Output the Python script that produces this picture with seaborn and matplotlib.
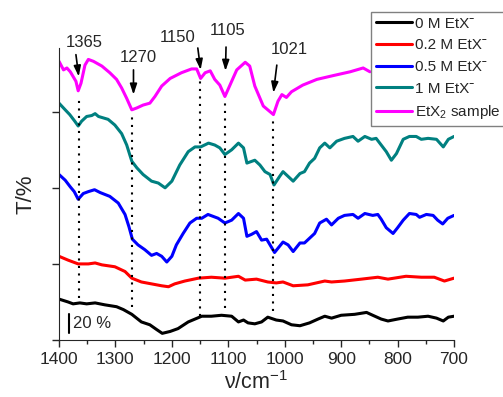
import numpy as np
import pandas as pd
import matplotlib
matplotlib.use('Agg')
from matplotlib import pyplot as plt
import seaborn as sns

# wavenumber (cm-1) / offset transmittance (%)
wn_0M = [1400, 1384, 1375, 1363, 1351, 1336, 1319, 1298, 1286, 1271, 1254, 1239, 1227, 1217, 1203, 1189, 1171,
         1147, 1130, 1112, 1094, 1082, 1073, 1065, 1053, 1041, 1030, 1015, 1003, 988, 973, 956, 941, 929, 917,
         900, 876, 855, 844, 829, 817, 800, 782, 764, 746, 731, 719, 710, 700]
t_0M = [43, 40, 38, 39, 38, 39, 37, 35, 32, 27, 19, 16, 11, 7, 9, 12, 19,
        25, 25, 26, 25, 19, 21, 18, 17, 19, 24, 21, 20, 16, 15, 18, 22, 25, 23,
        26, 27, 29, 26, 22, 20, 22, 24, 24, 25, 23, 20, 24, 25]

wn_02M = [1400, 1384, 1366, 1348, 1336, 1324, 1301, 1283, 1271, 1254, 1236, 1218, 1206, 1195, 1177, 1153, 1130,
          1106, 1082, 1070, 1050, 1030, 1015, 1003, 985, 959, 944, 929, 917, 894, 864, 835, 817, 785, 758, 735,
          717, 700]
t_02M = [88, 84, 80, 80, 81, 79, 77, 72, 65, 61, 59, 57, 56, 59, 62, 65, 66,
         65, 67, 63, 64, 61, 60, 61, 57, 58, 60, 62, 61, 62, 64, 66, 64, 67, 66, 66,
         62, 65]

wn_05M = [1400, 1389, 1380, 1373, 1366, 1357, 1348, 1337, 1327, 1310, 1295, 1283, 1276, 1270, 1260, 1248, 1236,
          1227, 1218, 1209, 1200, 1192, 1180, 1168, 1156, 1147, 1136, 1118, 1106, 1094, 1082, 1073, 1067, 1059,
          1050, 1041, 1032, 1024, 1018, 1003, 994, 985, 973, 965, 956, 947, 938, 926, 917, 905, 894, 879, 870,
          858, 844, 835, 829, 820, 808, 800, 790, 779, 767, 761, 749, 737, 729, 720, 711, 700]
t_05M = [174, 168, 161, 156, 148, 154, 156, 158, 155, 151, 144, 132, 119, 106, 100, 95, 89,
         91, 88, 82, 88, 100, 112, 123, 128, 128, 132, 128, 123, 126, 133, 128, 109, 111,
         114, 105, 106, 98, 92, 103, 100, 93, 102, 102, 107, 112, 123, 127, 121, 128, 131, 132, 128,
         133, 131, 132, 127, 118, 112, 118, 126, 133, 132, 129, 132, 131, 126, 122, 128, 131]

wn_1M = [1400, 1389, 1381, 1372, 1366, 1360, 1351, 1342, 1336, 1330, 1313, 1301, 1289, 1280, 1271, 1262, 1251,
         1236, 1224, 1212, 1200, 1186, 1171, 1159, 1149, 1135, 1124, 1115, 1106, 1094, 1082, 1073, 1067, 1053,
         1044, 1035, 1026, 1019, 1009, 1003, 994, 985, 973, 965, 956, 947, 938, 929, 920, 908, 894, 879, 870,
         858, 846, 838, 829, 820, 811, 802, 790, 779, 767, 758, 746, 731, 719, 710, 700]
t_1M = [249, 242, 237, 230, 225, 230, 235, 236, 238, 235, 232, 226, 217, 205, 188, 181, 174,
        167, 165, 160, 167, 184, 198, 203, 203, 207, 205, 202, 195, 200, 207, 202, 186, 189,
        184, 177, 174, 163, 172, 177, 172, 167, 175, 177, 186, 191, 202, 207, 202, 209, 212, 214, 209,
        214, 211, 212, 205, 198, 189, 196, 211, 214, 214, 211, 212, 211, 203, 211, 214]

wn_etx2 = [1400, 1392, 1386, 1380, 1375, 1370, 1366, 1361, 1354, 1348, 1339, 1324, 1310, 1298, 1289, 1280, 1271,
           1262, 1251, 1239, 1230, 1218, 1203, 1183, 1165, 1156, 1149, 1141, 1132, 1124, 1115, 1106, 1097, 1085,
           1070, 1062, 1053, 1038, 1020, 1012, 1005, 997, 988, 968, 943, 914, 884, 861, 849]
t_etx2 = [293, 284, 286, 282, 277, 272, 262, 270, 289, 295, 293, 288, 281, 274, 265, 254, 242,
          244, 247, 249, 256, 267, 275, 281, 285, 285, 275, 281, 283, 274, 268, 256, 268, 284,
          292, 288, 267, 246, 237, 251, 258, 255, 261, 268, 274, 278, 282, 286, 282]

series_names = ['0 M EtXˉ', '0.2 M EtXˉ', '0.5 M EtXˉ', '1 M EtXˉ', 'EtX$_{2}$ sample']
colors = ['#000000', '#ff0000', '#0000ff', '#008080', '#ff00ff']

# marked bands
peaks = [1365, 1270, 1150, 1105, 1021]
peak_top = [256, 237, 272, 253, 235]
peak_bottom = [44, 35, 25, 34, 31]
label_x = [1355, 1259, 1189, 1102, 992]
label_y = [313, 297, 318, 325, 305]
arrow_x0 = [1370, 1268, 1154, 1104, 1014]
arrow_y0 = [300, 284, 307, 308, 289]
arrow_x1 = [1365, 1268, 1149, 1105, 1020]
arrow_y1 = [277, 258, 284, 283, 260]

frames = []
for name, wn, t in zip(series_names,
                       [wn_0M, wn_02M, wn_05M, wn_1M, wn_etx2],
                       [t_0M, t_02M, t_05M, t_1M, t_etx2]):
    frames.append(pd.DataFrame({'wn': wn, 'T': t, 'sample': name}))
df = pd.concat(frames, ignore_index=True)

sns.set_style('ticks')
plt.rcParams['font.family'] = ['Liberation Sans', 'DejaVu Sans']
plt.rcParams['mathtext.fontset'] = 'custom'
plt.rcParams['mathtext.rm'] = 'Liberation Sans'
plt.rcParams['mathtext.it'] = 'Liberation Sans:italic'
plt.rcParams['mathtext.bf'] = 'Liberation Sans:bold'

fig = plt.figure(figsize=(5.03, 3.97), dpi=100)
ax = fig.add_axes([59 / 503, 57 / 397, 395 / 503, 292 / 397])

sns.lineplot(data=df, x='wn', y='T', hue='sample', hue_order=series_names,
             palette=colors, linewidth=2.2, sort=False, estimator=None, ax=ax)

ax.vlines(peaks, peak_bottom, peak_top, colors='k', linestyles=(0, (1, 2.6)), linewidth=1.5)
for p, lx, ly, x0, y0, x1, y1 in zip(peaks, label_x, label_y, arrow_x0, arrow_y0, arrow_x1, arrow_y1):
    ax.text(lx, ly, str(p), ha='center', va='center', fontsize=12, clip_on=False)
    ax.annotate('', xy=(x1, y1), xytext=(x0, y0), annotation_clip=False,
                arrowprops=dict(arrowstyle='-|>,head_width=0.3,head_length=0.9', color='k', lw=1.2,
                                mutation_scale=7, shrinkA=0, shrinkB=0))

# 20 % scale bar
ax.plot([1382, 1382], [7, 27], color='k', lw=1.5)
ax.text(1376, 17, '20 %', ha='left', va='center', fontsize=12)

ax.set_xlim(1400, 700)
ax.set_ylim(0, 307)
ax.set_xticks([1400, 1300, 1200, 1100, 1000, 900, 800, 700])
ax.set_xticks(np.arange(1350, 700, -100), minor=True)
ax.set_yticks([0, 80, 160, 240])
ax.set_yticklabels([])
ax.tick_params(axis='x', labelsize=12.5, length=5, width=1, direction='out')
ax.tick_params(axis='x', which='minor', length=3, width=1, bottom=True)
ax.tick_params(axis='y', length=5, width=1)
ax.set_xlabel('ν/cm$^{-1}$', fontsize=15.5, labelpad=3)
ax.set_ylabel('T/%', fontsize=16, labelpad=8)
sns.despine(ax=ax)

handles, labels = ax.get_legend_handles_labels()
leg = ax.legend(handles, labels, loc='upper left', bbox_to_anchor=(371 / 503, 1 - 12 / 397),
                bbox_transform=fig.transFigure, borderaxespad=0, fontsize=11, frameon=True,
                fancybox=False, framealpha=1, edgecolor='#808080', handlelength=2.4,
                handletextpad=0.2, labelspacing=0.5, borderpad=0.3)
leg.get_frame().set_linewidth(1)
for h in leg.get_lines():
    h.set_linewidth(2.2)

plt.savefig('out.png', dpi=100)
